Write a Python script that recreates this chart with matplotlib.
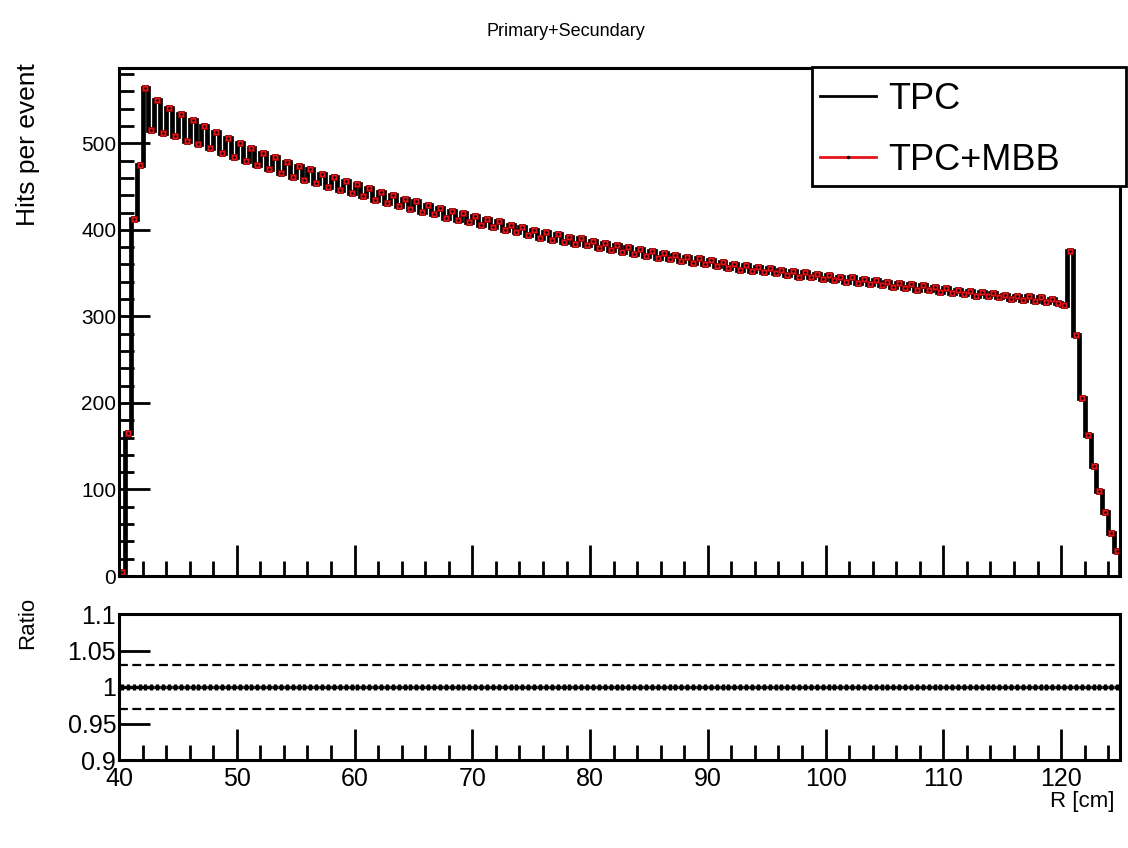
import numpy as np
import matplotlib.pyplot as plt
from matplotlib.lines import Line2D
from matplotlib.patches import Rectangle
from matplotlib.ticker import MultipleLocator

plt.rcParams['font.family'] = ['Liberation Sans', 'DejaVu Sans']

# 0.5 cm bins in R from 40 to 125 cm
r_min, r_max, bin_w = 40.0, 125.0, 0.5

# hits per event in each R bin
hits_tpc = [
    5, 165, 413, 475, 564, 515, 550, 512, 541, 508,
    534, 503, 527, 499, 520, 494, 513, 489, 506, 484,
    500, 479, 495, 475, 489, 470, 484, 466, 478, 461,
    474, 458, 470, 454, 465, 450, 461, 446, 457, 443,
    453, 439, 448, 435, 444, 431, 440, 428, 436, 424,
    433, 421, 429, 418, 425, 414, 422, 411, 419, 409,
    416, 406, 413, 403, 410, 400, 406, 397, 403, 394,
    400, 391, 397, 388, 395, 386, 392, 384, 390, 382,
    387, 379, 385, 377, 382, 374, 380, 372, 378, 370,
    375, 368, 373, 366, 371, 364, 369, 362, 367, 360,
    365, 358, 363, 356, 361, 354, 359, 353, 357, 351,
    356, 350, 354, 348, 352, 346, 351, 345, 349, 343,
    348, 342, 346, 340, 345, 339, 343, 337, 342, 336,
    340, 334, 339, 333, 337, 331, 336, 330, 334, 328,
    333, 327, 331, 326, 329, 324, 328, 323, 327, 322,
    325, 320, 324, 319, 323, 318, 322, 317, 320, 315,
    313, 375, 278, 206, 163, 127, 98, 74, 50, 29,
]
hits_mbb = list(hits_tpc)

ratio_err = 0.004
band = [0.97, 1.03]

edges = np.arange(r_min, r_max + bin_w / 2, bin_w)
centers = 0.5 * (edges[:-1] + edges[1:])
tpc = np.array(hits_tpc, dtype=float)
mbb = np.array(hits_mbb, dtype=float)
ratio = mbb / tpc

W, H = 1128, 848
fig = plt.figure(figsize=(W / 100, H / 100), dpi=100)

def fx(px):
    return px / W

def fy(py):
    return 1 - py / H

left, right = 119, 1120
ax = fig.add_axes([fx(left), fy(576), fx(right - left), (576 - 68) / H])
ax2 = fig.add_axes([fx(left), fy(760), fx(right - left), (760 - 614) / H])

red = '#e3141c'

# top pad: thick black histogram, red markers for TPC+MBB on top
ax.stairs(tpc, edges, color='black', lw=3.4, baseline=0)
ax.plot(centers, mbb, 's', ms=4.4, mfc=red, mec='#8a0000', mew=0.6)
ax.plot(centers, mbb, '.', ms=1.5, color='black')

ax.set_xlim(r_min, r_max)
ax.set_ylim(0, 587)
ax.xaxis.set_major_locator(MultipleLocator(10))
ax.xaxis.set_minor_locator(MultipleLocator(2))
ax.yaxis.set_major_locator(MultipleLocator(100))
ax.yaxis.set_minor_locator(MultipleLocator(20))
ax.tick_params(which='both', direction='in', width=2, top=False, right=False,
               labelbottom=False, labelsize=15, pad=2)
ax.tick_params(which='major', length=22)
ax.tick_params(which='minor', length=11)

# ratio pad
ax2.errorbar(centers, ratio, xerr=bin_w / 2, yerr=ratio_err, fmt='none',
             ecolor='black', elinewidth=2.4)
for b in band:
    ax2.axhline(b, color='black', lw=1.6, ls=(0, (4, 2)))

ax2.set_xlim(r_min, r_max)
ax2.set_ylim(0.9, 1.1)
ax2.set_yticks([0.9, 0.95, 1.0, 1.05, 1.1])
ax2.set_yticklabels(['0.9', '0.95', '1', '1.05', '1.1'])
ax2.xaxis.set_major_locator(MultipleLocator(10))
ax2.xaxis.set_minor_locator(MultipleLocator(2))
ax2.tick_params(which='both', direction='in', width=2, top=False, right=False,
                labelsize=18, pad=2)
ax2.tick_params(axis='x', pad=5)
ax2.tick_params(which='major', length=22)
ax2.tick_params(which='minor', length=11)

for a in (ax, ax2):
    for s in a.spines.values():
        s.set_linewidth(2.2)

fig.text(fx(566), fy(32), 'Primary+Secundary', ha='center', va='center', fontsize=13)
fig.text(fx(28), fy(63), 'Hits per event', rotation=90, ha='center', va='top', fontsize=19)
fig.text(fx(28), fy(597), 'Ratio', rotation=90, ha='center', va='top', fontsize=16)
fig.text(fx(1114), fy(801), 'R [cm]', ha='right', va='center', fontsize=16)

# legend box
fig.patches.append(Rectangle((fx(812), fy(186)), fx(1126 - 812), (186 - 67) / H,
                             transform=fig.transFigure, facecolor='white',
                             edgecolor='black', lw=2, zorder=3))
handles = [Line2D([], [], color='black', lw=2),
           Line2D([], [], color=red, lw=2, marker='.', ms=3, mfc='black', mec='black')]
fig.legend(handles, ['TPC', 'TPC+MBB'], loc='upper left',
           bbox_to_anchor=(fx(820), fy(82)), frameon=False, fontsize=26,
           handlelength=1.55, handletextpad=0.35, labelspacing=0.72,
           borderpad=0, borderaxespad=0).set_zorder(5)

fig.savefig('out.png', dpi=100)
